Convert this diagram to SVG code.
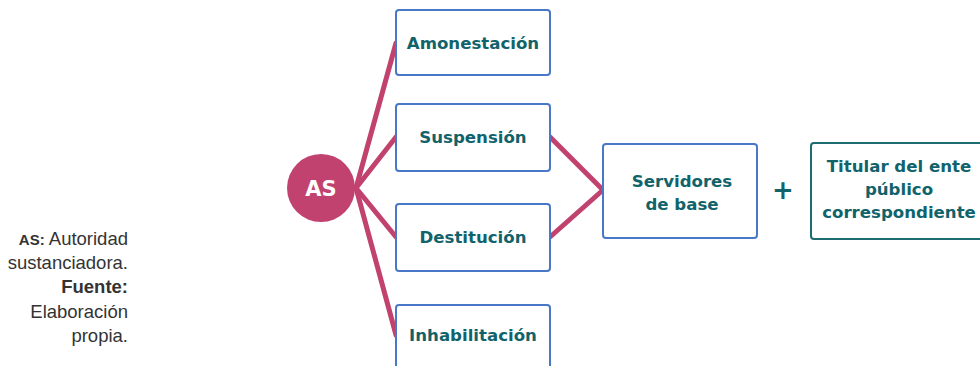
<svg xmlns="http://www.w3.org/2000/svg" width="980" height="366" viewBox="0 0 980 366">
<style>
.box{fill:#fff;stroke:#4a78c8;stroke-width:2}
.box2{fill:#fff;stroke:#1d6c72;stroke-width:2}
.lbl{font-family:"DejaVu Sans",sans-serif;font-weight:bold;font-size:16.6px;fill:#11636b;text-anchor:middle}
.con{stroke:#c2426f;stroke-width:5;fill:none;stroke-linecap:round}
.note{font-family:"Liberation Sans",sans-serif;font-size:18.5px;fill:#333;text-anchor:end}
</style>
<rect width="980" height="366" fill="#fff"/>
<g id="connectors">
<line class="con" x1="356" y1="188" x2="396" y2="43"/>
<line class="con" x1="356" y1="188" x2="396" y2="137"/>
<line class="con" x1="356" y1="188" x2="396" y2="237"/>
<line class="con" x1="356" y1="188" x2="396" y2="335"/>
<line class="con" x1="550" y1="137" x2="603" y2="190"/>
<line class="con" x1="550" y1="237" x2="603" y2="190"/>
</g>
<g id="as">
<circle cx="321" cy="188" r="34" fill="#c2426f"/>
<text x="321" y="196" font-family="DejaVu Sans,sans-serif" font-weight="bold" font-size="21" fill="#fff" text-anchor="middle">AS</text>
</g>
<g id="amonestacion"><rect class="box" x="396" y="10" width="154" height="65" rx="3"/><text class="lbl" x="473" y="49">Amonestación</text></g>
<g id="suspension"><rect class="box" x="396" y="104" width="154" height="67" rx="3"/><text class="lbl" x="473" y="143">Suspensión</text></g>
<g id="destitucion"><rect class="box" x="396" y="204" width="154" height="67" rx="3"/><text class="lbl" x="473" y="243">Destitución</text></g>
<g id="inhabilitacion"><rect class="box" x="396" y="305" width="154" height="67" rx="3"/><text class="lbl" x="473" y="341">Inhabilitación</text></g>
<g id="servidores"><rect class="box" x="603" y="144" width="154" height="94" rx="3"/><text class="lbl" x="682" y="187">Servidores</text><text class="lbl" x="682" y="210">de base</text></g>
<g id="plus"><text x="783" y="199" font-family="DejaVu Sans,sans-serif" font-weight="bold" font-size="26" fill="#11636b" text-anchor="middle">+</text></g>
<g id="titular"><rect class="box2" x="811" y="143" width="176" height="96" rx="3"/><text class="lbl" x="899" y="172">Titular del ente</text><text class="lbl" x="899" y="195">público</text><text class="lbl" x="899" y="218">correspondiente</text></g>
<g id="note">
<text class="note" x="128" y="245"><tspan font-weight="bold" font-size="15">AS:</tspan> Autoridad</text>
<text class="note" x="128" y="269">sustanciadora.</text>
<text class="note" x="128" y="293" font-weight="bold">Fuente:</text>
<text class="note" x="128" y="318">Elaboración</text>
<text class="note" x="128" y="342">propia.</text>
</g>
</svg>
